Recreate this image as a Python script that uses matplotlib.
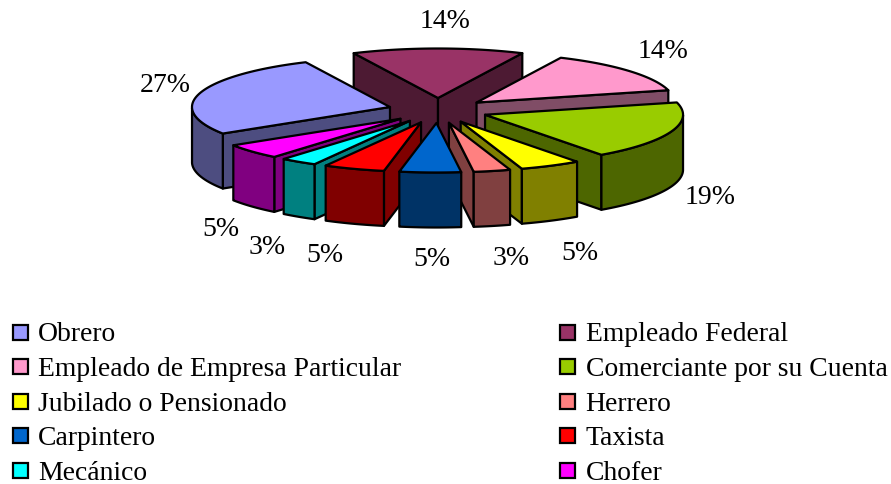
"""
Exploded 3D style pie chart with two column legend
"""
import numpy as np
import matplotlib
matplotlib.use('Agg')
import matplotlib.pyplot as plt
from matplotlib.colors import to_rgb
from matplotlib.patches import Polygon, Rectangle

plt.rcParams['font.family'] = ['Liberation Serif', 'DejaVu Serif']

# Data, clockwise from Obrero
categories = ['Obrero', 'Empleado Federal', 'Empleado de Empresa Particular',
              'Comerciante por su Cuenta', 'Jubilado o Pensionado', 'Herrero',
              'Carpintero', 'Taxista', 'Mecánico', 'Chofer']
percentages = [27, 14, 14, 19, 5, 3, 5, 5, 3, 5]
colors = ['#9999FF', '#993366', '#FF99CC', '#99CC00', '#FFFF00',
          '#FF8080', '#0066CC', '#FF0000', '#00FFFF', '#FF00FF']

# Layout, in image pixels
CX, CY = 438, 111.5
RADIUS = 198
TILT = 0.25
EXPLODE = 50
DEPTH = 55
START = 212.4

# Label anchors follow the slice order
label_xy = [(165, 86), (445, 21), (663, 51), (710, 198), (580, 253),
            (511, 259), (432, 260), (325, 256), (267, 248), (221, 230)]


def project(x, y):
    return CX + x, CY - y * TILT


def arc(a0, a1, n=60):
    return np.radians(np.linspace(a0, a1, n))


def draw_slice(ax, hi, lo, color):
    """Draw walls then top of one slice, angles in degrees, hi > lo"""
    mid = np.radians((hi + lo) / 2)
    ox, oy = EXPLODE * np.cos(mid), EXPLODE * np.sin(mid)
    side = np.array(to_rgb(color)) * 0.5
    ts = arc(hi, lo)
    rim = np.column_stack(project(ox + RADIUS * np.cos(ts), oy + RADIUS * np.sin(ts)))
    apex = np.array(project(ox, oy))

    def wall(points):
        pts = np.array(points)
        low = pts[::-1] + [0, DEPTH]
        ax.add_patch(Polygon(np.vstack([pts, low]), closed=True, fc=side,
                             ec='black', lw=1.6, joinstyle='round'))

    # radial faces, only those that look toward the viewer
    if np.sin(np.radians(hi + 90)) < 0:
        wall([apex, rim[0]])
    if np.sin(np.radians(lo - 90)) < 0:
        wall([apex, rim[-1]])

    # outer rim, front half only
    front = np.sin(ts) < 0
    if front.any():
        wall(rim[front])

    ax.add_patch(Polygon(np.vstack([apex, rim]), closed=True, fc=color,
                         ec='black', lw=1.6, joinstyle='round'))


fig = plt.figure(figsize=(8.91, 4.85), dpi=100)
ax = fig.add_axes([0, 0, 1, 1])
ax.set_xlim(0, 891)
ax.set_ylim(485, 0)
ax.axis('off')

edges = START - np.cumsum([0] + percentages) * 3.6
slices = [(edges[i], edges[i + 1], colors[i]) for i in range(len(percentages))]

# back to front
slices.sort(key=lambda s: -np.sin(np.radians((s[0] + s[1]) / 2)))
for hi, lo, color in slices:
    draw_slice(ax, hi, lo, color)

for value, (x, y) in zip(percentages, label_xy):
    ax.text(x, y, f'{value}%', fontsize=20, ha='center', va='center', color='black')

# Legend, filled row by row
for i, (name, color) in enumerate(zip(categories, colors)):
    col, row = i % 2, i // 2
    x = 13 + col * 547.5
    y = 333 + row * 34.6
    ax.add_patch(Rectangle((x - 0.5, y - 7.5), 15, 15, fc=color, ec='black', lw=1.6))
    ax.text(x + 25, y + 8.5, name, fontsize=19.9, ha='left', va='baseline', color='black')

fig.savefig('out.png', dpi=100)
